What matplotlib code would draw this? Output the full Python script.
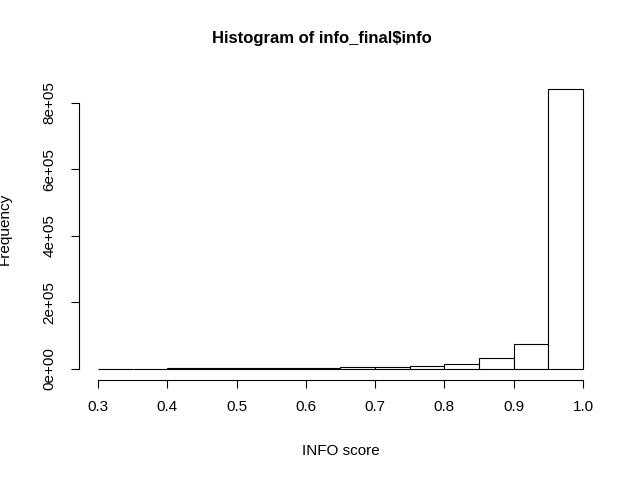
import numpy as np
import matplotlib
matplotlib.use("Agg")
import matplotlib.pyplot as plt

plt.rcParams["font.family"] = ["Liberation Sans", "DejaVu Sans"]

bin_edges = [0.30, 0.35, 0.40, 0.45, 0.50, 0.55, 0.60, 0.65, 0.70, 0.75, 0.80, 0.85, 0.90, 0.95, 1.00]
counts = [1000, 1200, 1500, 2000, 2500, 3000, 3500, 4500, 6000, 9000, 15000, 33000, 75000, 842000]
x_ticks = [0.3, 0.4, 0.5, 0.6, 0.7, 0.8, 0.9, 1.0]
y_ticks = [0, 200000, 400000, 600000, 800000]
y_labels = ["0e+00", "2e+05", "4e+05", "6e+05", "8e+05"]

fig = plt.figure(figsize=(6.43, 4.79), dpi=100)
ax = fig.add_axes([0.1222, 0.2063, 0.8146, 0.6313])

widths = np.diff(bin_edges)
ax.bar(bin_edges[:-1], counts, width=widths, align="edge",
       facecolor="white", edgecolor="black", linewidth=0.8)

ax.set_xlim(0.272, 1.028)
ax.set_ylim(-0.04 * max(counts), 1.04 * max(counts))
for s in ["top", "right"]:
    ax.spines[s].set_visible(False)
ax.spines["left"].set_bounds(0, 800000)
ax.spines["bottom"].set_bounds(0.3, 1.0)
ax.set_xticks(x_ticks)
ax.set_xticklabels([f"{v:.1f}" for v in x_ticks])
ax.set_yticks(y_ticks)
ax.set_yticklabels(y_labels, rotation=90, va="center")
ax.tick_params(labelsize=11, length=6)
ax.tick_params(axis="x", pad=8)
ax.tick_params(axis="y", pad=10)

ax.set_xlabel("INFO score", fontsize=11, labelpad=22)
ax.set_ylabel("Frequency", fontsize=11, labelpad=22)
fig.suptitle("Histogram of info_final$info", fontsize=12, fontweight="bold", y=0.935)

fig.savefig("out.png", dpi=100)
